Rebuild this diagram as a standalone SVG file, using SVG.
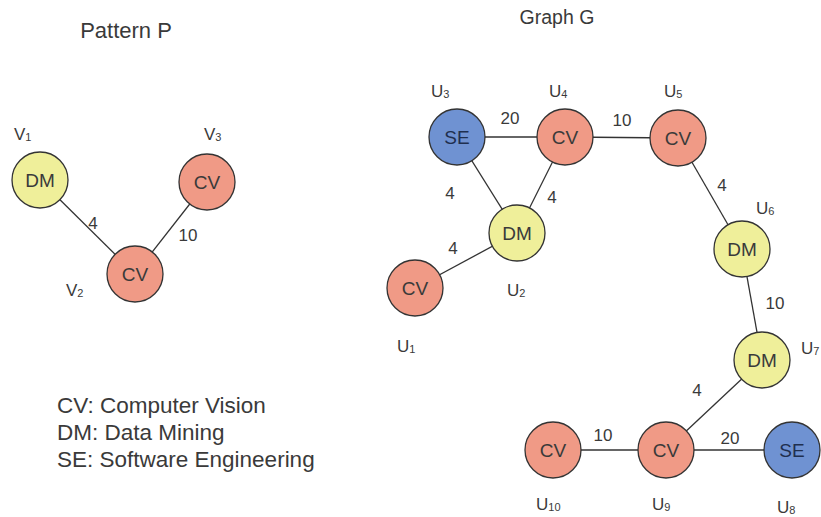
<svg xmlns="http://www.w3.org/2000/svg" width="821" height="517" viewBox="0 0 821 517">
  <style>
    text { font-family: "Liberation Sans", Arial, sans-serif; fill: #3a3a3a; }
    .node { stroke: #333; stroke-width: 1.3; }
    .cv { fill: #F09A86; }
    .dm { fill: #EFEF9A; }
    .se { fill: #6F92D2; }
    .nt { font-size: 19px; text-anchor: middle; }
    .lbl { font-size: 17px; }
    .sub { font-size: 11px; }
    .w { font-size: 17px; text-anchor: middle; }
    .title { text-anchor: middle; }
    .legend { font-size: 22.5px; }
    .edge { stroke: #333; stroke-width: 1.3; fill: none; }
  </style>

  <rect width="821" height="517" fill="#ffffff"/>

  <!-- titles -->
  <text class="title" x="126" y="38" font-size="22">Pattern P</text>
  <text class="title" x="557" y="24" font-size="19.5">Graph G</text>

  <!-- connectors -->
  <g id="edges">
    <line class="edge" x1="40" y1="180" x2="135" y2="274"/>
    <line class="edge" x1="207" y1="182" x2="135" y2="274"/>
    <line class="edge" x1="457" y1="137" x2="565" y2="137"/>
    <line class="edge" x1="565" y1="137" x2="678" y2="138"/>
    <line class="edge" x1="457" y1="137" x2="517" y2="233"/>
    <line class="edge" x1="565" y1="137" x2="517" y2="233"/>
    <line class="edge" x1="415" y1="288" x2="517" y2="233"/>
    <line class="edge" x1="678" y1="138" x2="742" y2="249"/>
    <line class="edge" x1="742" y1="249" x2="762" y2="360"/>
    <line class="edge" x1="762" y1="360" x2="666" y2="450"/>
    <line class="edge" x1="553" y1="450" x2="666" y2="450"/>
    <line class="edge" x1="666" y1="450" x2="792" y2="450"/>
  </g>

  <!-- edge weights -->
  <g id="weights">
    <text class="w" x="93" y="229">4</text>
    <text class="w" x="188" y="241">10</text>
    <text class="w" x="510" y="124">20</text>
    <text class="w" x="622" y="126">10</text>
    <text class="w" x="450" y="199">4</text>
    <text class="w" x="552" y="203">4</text>
    <text class="w" x="453" y="254">4</text>
    <text class="w" x="722" y="191">4</text>
    <text class="w" x="775" y="309">10</text>
    <text class="w" x="697" y="396">4</text>
    <text class="w" x="603" y="441">10</text>
    <text class="w" x="730" y="444">20</text>
  </g>

  <!-- pattern P -->
  <g id="V1">
    <circle class="node dm" cx="40" cy="180" r="28"/>
    <text class="nt" x="40" y="187">DM</text>
    <text class="lbl" x="14" y="140">V<tspan class="sub" dy="1">1</tspan></text>
  </g>
  <g id="V2">
    <circle class="node cv" cx="135" cy="274" r="28"/>
    <text class="nt" x="135" y="281">CV</text>
    <text class="lbl" x="66" y="296">V<tspan class="sub" dy="1">2</tspan></text>
  </g>
  <g id="V3">
    <circle class="node cv" cx="207" cy="182" r="28"/>
    <text class="nt" x="207" y="189">CV</text>
    <text class="lbl" x="204" y="140">V<tspan class="sub" dy="1">3</tspan></text>
  </g>

  <!-- graph G -->
  <g id="U1">
    <circle class="node cv" cx="415" cy="288" r="28"/>
    <text class="nt" x="415" y="295">CV</text>
    <text class="lbl" x="397" y="352">U<tspan class="sub" dy="1">1</tspan></text>
  </g>
  <g id="U2">
    <circle class="node dm" cx="517" cy="233" r="28"/>
    <text class="nt" x="517" y="240">DM</text>
    <text class="lbl" x="507" y="296">U<tspan class="sub" dy="1">2</tspan></text>
  </g>
  <g id="U3">
    <circle class="node se" cx="457" cy="137" r="28"/>
    <text class="nt" x="457" y="144" style="fill:#1f2f4f">SE</text>
    <text class="lbl" x="431" y="97">U<tspan class="sub" dy="1">3</tspan></text>
  </g>
  <g id="U4">
    <circle class="node cv" cx="565" cy="137" r="28"/>
    <text class="nt" x="565" y="144">CV</text>
    <text class="lbl" x="549" y="97">U<tspan class="sub" dy="1">4</tspan></text>
  </g>
  <g id="U5">
    <circle class="node cv" cx="678" cy="138" r="28"/>
    <text class="nt" x="678" y="145">CV</text>
    <text class="lbl" x="664" y="97">U<tspan class="sub" dy="1">5</tspan></text>
  </g>
  <g id="U6">
    <circle class="node dm" cx="742" cy="249" r="28"/>
    <text class="nt" x="742" y="256">DM</text>
    <text class="lbl" x="756" y="214">U<tspan class="sub" dy="1">6</tspan></text>
  </g>
  <g id="U7">
    <circle class="node dm" cx="762" cy="360" r="28"/>
    <text class="nt" x="762" y="367">DM</text>
    <text class="lbl" x="801" y="354">U<tspan class="sub" dy="1">7</tspan></text>
  </g>
  <g id="U8">
    <circle class="node se" cx="792" cy="450" r="28"/>
    <text class="nt" x="792" y="457" style="fill:#1f2f4f">SE</text>
    <text class="lbl" x="777" y="513">U<tspan class="sub" dy="1">8</tspan></text>
  </g>
  <g id="U9">
    <circle class="node cv" cx="666" cy="450" r="28"/>
    <text class="nt" x="666" y="457">CV</text>
    <text class="lbl" x="652" y="510">U<tspan class="sub" dy="1">9</tspan></text>
  </g>
  <g id="U10">
    <circle class="node cv" cx="553" cy="450" r="28"/>
    <text class="nt" x="553" y="457">CV</text>
    <text class="lbl" x="536" y="510">U<tspan class="sub" dy="1">10</tspan></text>
  </g>

  <!-- legend -->
  <g id="legend">
    <text class="legend" x="57" y="413">CV: Computer Vision</text>
    <text class="legend" x="57" y="440">DM: Data Mining</text>
    <text class="legend" x="57" y="467">SE: Software Engineering</text>
  </g>
</svg>
